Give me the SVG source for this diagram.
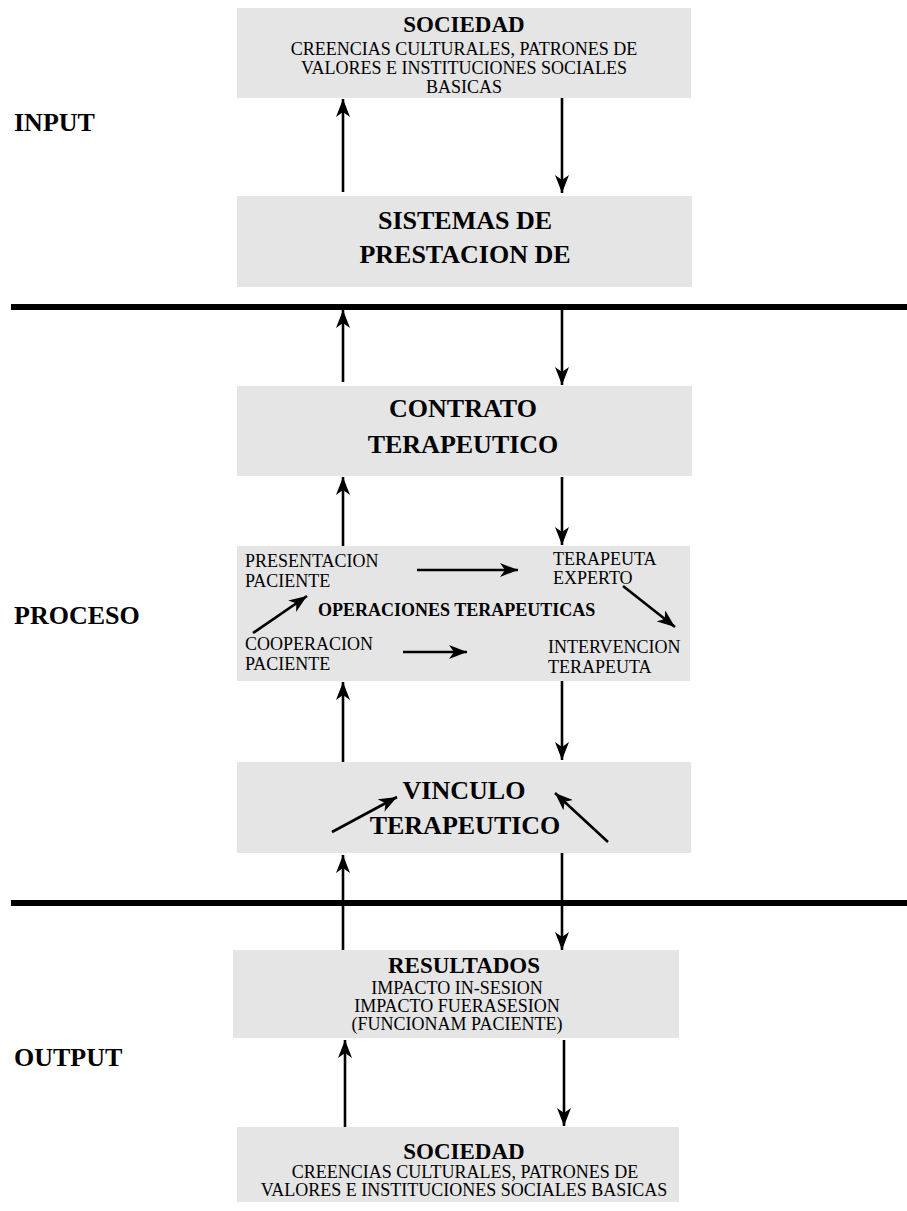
<svg xmlns="http://www.w3.org/2000/svg" width="907" height="1211" viewBox="0 0 907 1211">
<style>
.box{fill:#e5e5e5}
text{font-family:"Liberation Serif","Times New Roman",serif;fill:#000}
.big{font-size:26px;font-weight:bold;text-anchor:middle}
.hd{font-size:23px;font-weight:bold;text-anchor:middle}
.sub{font-size:18px;text-anchor:middle}
.sm{font-size:18px}
.lbl{font-size:26px;font-weight:bold}
.ln{stroke:#000;stroke-width:2.6;fill:none;marker-end:url(#ah)}
.bar{fill:#000}
</style>
<defs>
<marker id="ah" markerUnits="userSpaceOnUse" markerWidth="20" markerHeight="14" refX="18" refY="7" orient="auto" viewBox="0 0 20 14">
<path d="M0,0 L18,7 L0,14 L5,7 z" fill="#000"/>
</marker>
</defs>

<g id="labels">
<text class="lbl" x="14" y="131">INPUT</text>
<text class="lbl" x="14" y="624">PROCESO</text>
<text class="lbl" x="14" y="1066">OUTPUT</text>
</g>

<g id="separators">
<rect class="bar" x="11" y="304" width="896" height="6"/>
<rect class="bar" x="11" y="900" width="896" height="6"/>
</g>

<g id="sociedad-top">
<rect class="box" x="237" y="8" width="454" height="90"/>
<text class="hd" x="464" y="32">SOCIEDAD</text>
<text class="sub" x="464" y="55">CREENCIAS CULTURALES, PATRONES DE</text>
<text class="sub" x="464" y="74">VALORES E INSTITUCIONES SOCIALES</text>
<text class="sub" x="464" y="93">BASICAS</text>
</g>

<g id="sistemas">
<rect class="box" x="237" y="196" width="455" height="91"/>
<text class="big" x="465" y="229">SISTEMAS DE</text>
<text class="big" x="465" y="263">PRESTACION DE</text>
</g>

<g id="contrato">
<rect class="box" x="237" y="386" width="455" height="90"/>
<text class="big" x="463" y="417">CONTRATO</text>
<text class="big" x="463" y="453">TERAPEUTICO</text>
</g>

<g id="operaciones">
<rect class="box" x="237" y="546" width="453" height="135"/>
<text class="sm" x="245" y="567">PRESENTACION</text>
<text class="sm" x="245" y="587">PACIENTE</text>
<text class="sm" x="553" y="565">TERAPEUTA</text>
<text class="sm" x="553" y="584">EXPERTO</text>
<text class="sm" x="318" y="616" font-weight="bold">OPERACIONES TERAPEUTICAS</text>
<text class="sm" x="245" y="650">COOPERACION</text>
<text class="sm" x="245" y="670">PACIENTE</text>
<text class="sm" x="548" y="653">INTERVENCION</text>
<text class="sm" x="548" y="673">TERAPEUTA</text>
</g>

<g id="vinculo">
<rect class="box" x="237" y="762" width="454" height="91"/>
<text class="big" x="464" y="799">VINCULO</text>
<text class="big" x="465" y="834">TERAPEUTICO</text>
</g>

<g id="resultados">
<rect class="box" x="233" y="950" width="446" height="88"/>
<text class="hd" x="464" y="973">RESULTADOS</text>
<text class="sub" x="457" y="994" font-size="17">IMPACTO IN-SESION</text>
<text class="sub" x="457" y="1012" font-size="17">IMPACTO FUERASESION</text>
<text class="sub" x="457" y="1030" font-size="17">(FUNCIONAM PACIENTE)</text>
</g>

<g id="sociedad-bottom">
<rect class="box" x="237" y="1127" width="442" height="75"/>
<text class="hd" x="464" y="1159">SOCIEDAD</text>
<text class="sub" x="465" y="1178">CREENCIAS CULTURALES, PATRONES DE</text>
<text class="sub" x="464" y="1196">VALORES E INSTITUCIONES SOCIALES BASICAS</text>
</g>

<g id="connectors">
<line class="ln" x1="343" y1="192" x2="343" y2="99"/>
<line class="ln" x1="562" y1="98" x2="562" y2="193"/>
<line class="ln" x1="343" y1="382" x2="343" y2="310"/>
<line class="ln" x1="562" y1="310" x2="562" y2="385"/>
<line class="ln" x1="343" y1="546" x2="343" y2="477"/>
<line class="ln" x1="562" y1="477" x2="562" y2="545"/>
<line class="ln" x1="343" y1="762" x2="343" y2="682"/>
<line class="ln" x1="562" y1="681" x2="562" y2="760"/>
<line class="ln" x1="343" y1="950" x2="343" y2="855"/>
<line class="ln" x1="562" y1="853" x2="562" y2="950"/>
<line class="ln" x1="345" y1="1127" x2="345" y2="1040"/>
<line class="ln" x1="564" y1="1040" x2="564" y2="1126"/>
<line class="ln" x1="417" y1="570" x2="518" y2="570"/>
<line class="ln" x1="403" y1="652" x2="467" y2="652"/>
<line class="ln" x1="253" y1="633" x2="307" y2="596"/>
<line class="ln" x1="623" y1="586" x2="675" y2="627"/>
<line class="ln" x1="332" y1="832" x2="397" y2="797"/>
<line class="ln" x1="608" y1="842" x2="555" y2="793"/>
</g>
</svg>
